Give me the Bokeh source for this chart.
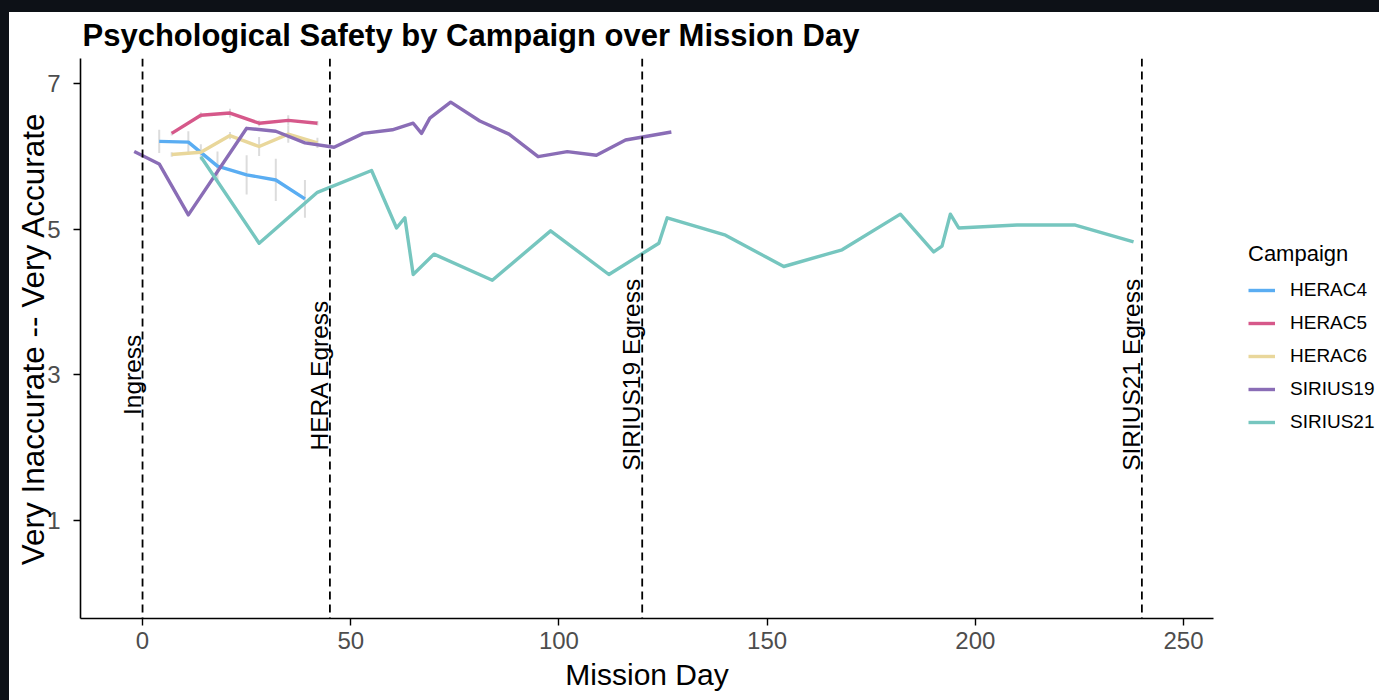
from math import pi

from bokeh.core.properties import value
from bokeh.embed import file_html
from bokeh.layouts import column, row
from bokeh.models import (ColumnDataSource, FixedTicker, Legend, LegendItem,
                          Range1d, Span, Spacer, Title)
from bokeh.plotting import figure
from bokeh.resources import INLINE

# ---- data -------------------------------------------------------------
campaigns = ["HERAC4", "HERAC5", "HERAC6", "SIRIUS19", "SIRIUS21"]

herac4_day = [4, 11, 18, 25, 32, 39]
herac4_mean = [6.21, 6.20, 5.87, 5.75, 5.68, 5.42]
herac4_se = [0.16, 0.15, 0.20, 0.27, 0.29, 0.26]

herac5_day = [7, 14, 21, 28, 35, 42]
herac5_mean = [6.32, 6.57, 6.60, 6.46, 6.50, 6.46]
herac5_se = [0.03, 0.04, 0.06, 0.04, 0.07, 0.03]

herac6_day = [7, 14, 21, 28, 35, 42]
herac6_mean = [6.03, 6.06, 6.29, 6.14, 6.31, 6.19]
herac6_se = [0.03, 0.11, 0.05, 0.13, 0.12, 0.07]

sirius19_day = [-2, 4, 11, 25, 32, 39, 46, 53, 60, 65, 67, 69, 74, 81, 88,
                95, 102, 109, 116, 127]
sirius19_mean = [6.07, 5.90, 5.20, 6.39, 6.35, 6.19, 6.13, 6.32, 6.37, 6.46,
                 6.32, 6.53, 6.75, 6.49, 6.31, 6.00, 6.07, 6.02, 6.23, 6.34]

sirius21_day = [14, 28, 42, 55, 61, 63, 65, 70, 84, 98, 112, 124, 126, 140,
                154, 168, 182, 190, 192, 194, 196, 210, 224, 238]
sirius21_mean = [6.00, 4.81, 5.51, 5.81, 5.02, 5.16, 4.38, 4.66, 4.30, 4.98,
                 4.38, 4.81, 5.16, 4.92, 4.49, 4.72, 5.21, 4.69, 4.77, 5.21,
                 5.02, 5.06, 5.06, 4.83]

event_days = [0, 45, 120, 240]
event_labels = ["Ingress", "HERA Egress", "SIRIUS19 Egress", "SIRIUS21 Egress"]
event_label_y = [3, 3, 3, 3]

x_ticks = [0, 50, 100, 150, 200, 250]
y_ticks = [1, 3, 5, 7]

palette = ["#5aadf2", "#d6588a", "#e9d79b", "#8a6db6", "#76c6bf"]

FONT = "Liberation Sans"
BG_DARK = "#0d1117"

series = [
    (herac4_day, herac4_mean, herac4_se),
    (herac5_day, herac5_mean, herac5_se),
    (herac6_day, herac6_mean, herac6_se),
    (sirius19_day, sirius19_mean, None),
    (sirius21_day, sirius21_mean, None),
]

# ---- main panel -------------------------------------------------------
p = figure(
    width=1214, height=688,
    x_range=Range1d(-14.9, 257.2), y_range=Range1d(-0.35, 7.35),
    output_backend="svg", toolbar_location=None,
    min_border_left=71, min_border_right=10,
    min_border_bottom=82, min_border_top=46,
    background_fill_color="white", border_fill_color="white",
)
p.outline_line_color = "white"
p.grid.visible = False

p.add_layout(Title(text="Psychological Safety by Campaign over Mission Day",
                   text_font=FONT, text_font_size="31px",
                   text_font_style="bold", text_color="black",
                   text_line_height=1.0, vertical_align="top",
                   align="left", offset=2, standoff=8), "above")

# axes
for ax in (p.xaxis[0], p.yaxis[0]):
    ax.axis_line_color = "black"
    ax.axis_line_width = 1.6
    ax.major_tick_line_color = "black"
    ax.major_tick_line_width = 1.4
    ax.major_tick_out = 7
    ax.major_tick_in = 0
    ax.minor_tick_line_color = None
    ax.major_label_text_font = FONT
    ax.major_label_text_font_size = "24px"
    ax.major_label_text_color = "#4d4d4d"
    ax.axis_label_text_font = FONT
    ax.axis_label_text_font_style = "normal"
    ax.axis_label_text_color = "black"

p.xaxis.ticker = FixedTicker(ticks=x_ticks)
p.yaxis.ticker = FixedTicker(ticks=y_ticks)
p.xaxis.axis_label = "Mission Day"
p.xaxis.axis_label_text_font_size = "30px"
p.xaxis.major_label_standoff = 6
p.xaxis.axis_label_standoff = 6
p.yaxis.axis_label = "Very Inaccurate -- Very Accurate"
p.yaxis.axis_label_text_font_size = "31.5px"
p.yaxis.major_label_standoff = 13
p.yaxis.axis_label_standoff = -7

# event markers
for d in event_days:
    p.add_layout(Span(location=d, dimension="height", line_color="black",
                      line_width=1.8, line_dash="8 5"))

p.text(x=event_days, y=event_label_y, text=event_labels, angle=pi / 2,
       text_align="center", text_baseline="bottom", x_offset=3,
       text_font=value(FONT), text_font_size="24.5px", text_color="black")

# standard-error bars behind the lines
for days, means, ses in series:
    if ses is None:
        continue
    src = ColumnDataSource(dict(
        x=days,
        lo=[m - s for m, s in zip(means, ses)],
        hi=[m + s for m, s in zip(means, ses)],
    ))
    p.segment(x0="x", y0="lo", x1="x", y1="hi", source=src,
              line_color="#dcdcdc", line_width=2)

# campaign lines
for color, (days, means, _) in zip(palette, series):
    p.line(days, means, line_color=color, line_width=3.4, line_join="round")

# ---- legend panel (same series, ranges kept away from the data) --------
leg = figure(
    width=156, height=688,
    x_range=Range1d(-1e6, -1e6 + 1), y_range=Range1d(-1e6, -1e6 + 1),
    output_backend="svg", toolbar_location=None,
    x_axis_type=None, y_axis_type=None, min_border=0,
    background_fill_color="white", border_fill_color="white",
)
leg.outline_line_color = "white"
leg.grid.visible = False

items = []
for name, color, (days, means, _) in zip(campaigns, palette, series):
    r = leg.line(days, means, line_color=color, line_width=3.4)
    items.append(LegendItem(label=name, renderers=[r]))

legend = Legend(
    items=items, title="Campaign", location=(25, 181),
    title_text_font=FONT, title_text_font_size="22px",
    title_text_font_style="normal", title_text_color="black",
    title_standoff=8,
    label_text_font=FONT, label_text_font_size="19px",
    label_text_color="black",
    glyph_width=27, glyph_height=30, label_height=30, label_standoff=15,
    spacing=3, padding=6, margin=0,
    border_line_color=None, background_fill_alpha=0,
)
leg.add_layout(legend, "center")

page = column(
    Spacer(width=1379, height=12, styles={"background-color": BG_DARK}),
    row(Spacer(width=9, height=688, styles={"background-color": BG_DARK}),
        p, leg, styles={"background-color": "white"}),
    styles={"background-color": "white"},
)

open("out.html", "w").write(file_html(page, INLINE))
